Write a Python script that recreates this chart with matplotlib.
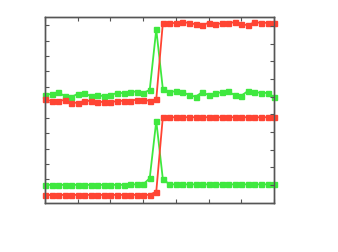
import matplotlib
matplotlib.use('Agg')
import matplotlib.pyplot as plt

# x positions: 36 samples, 0.0 .. 7.0
x = [0.0, 0.2, 0.4, 0.6, 0.8, 1.0, 1.2, 1.4, 1.6, 1.8,
     2.0, 2.2, 2.4, 2.6, 2.8, 3.0, 3.2, 3.4, 3.6, 3.8,
     4.0, 4.2, 4.4, 4.6, 4.8, 5.0, 5.2, 5.4, 5.6, 5.8,
     6.0, 6.2, 6.4, 6.6, 6.8, 7.0]

red_top = [6.19, 6.08, 6.08, 6.15, 5.97, 5.97, 6.08, 6.10, 6.00, 6.04,
           6.00, 6.08, 6.10, 6.10, 6.17, 6.15, 6.10, 6.19, 11.11, 11.11,
           11.15, 11.18, 11.15, 11.05, 11.00, 11.15, 11.07, 11.11, 11.15, 11.18,
           11.05, 11.00, 11.18, 11.15, 11.15, 11.11]

green_top = [6.47, 6.54, 6.65, 6.41, 6.34, 6.54, 6.60, 6.39, 6.47, 6.39,
             6.47, 6.60, 6.60, 6.69, 6.69, 6.60, 6.80, 10.72, 6.88, 6.68,
             6.71, 6.67, 6.47, 6.36, 6.65, 6.47, 6.58, 6.65, 6.71, 6.45,
             6.43, 6.73, 6.65, 6.62, 6.60, 6.34]

green_bottom = [0.65, 0.65, 0.65, 0.65, 0.65, 0.65, 0.65, 0.65, 0.65, 0.65,
                0.65, 0.65, 0.65, 0.68, 0.68, 0.68, 1.08, 4.79, 1.04, 0.68,
                0.68, 0.68, 0.68, 0.68, 0.68, 0.68, 0.68, 0.68, 0.68, 0.68,
                0.68, 0.68, 0.68, 0.68, 0.68, 0.68]

red_bottom = [0.0, 0.0, 0.0, 0.0, 0.0, 0.0, 0.0, 0.0, 0.0, 0.0,
              0.0, 0.0, 0.0, 0.0, 0.0, 0.0, 0.0, 0.21, 5.03, 5.03,
              5.03, 5.03, 5.03, 5.03, 5.03, 5.03, 5.03, 5.03, 5.03, 5.03,
              5.03, 5.03, 5.03, 5.03, 5.03, 5.03]

GREEN = '#3fe83f'
RED = '#ff4433'
SPINE = '#555555'

fig = plt.figure(figsize=(3.38, 2.52), dpi=100)
ax = fig.add_axes([0.133, 0.196, 0.678, 0.735])

for ys, c in [(green_top, GREEN), (red_top, RED),
              (green_bottom, GREEN), (red_bottom, RED)]:
    ax.plot(x, ys, color=c, lw=1.3, marker='s', ms=3.6, mec=c, mfc=c,
            clip_on=False, zorder=3)

ax.set_xlim(0, 7)
ax.set_ylim(-0.5, 11.5)
ax.set_xticks(range(8))
ax.set_yticks(range(12))
ax.tick_params(direction='in', length=3, width=0.8, color=SPINE,
               top=True, labelbottom=False, labelleft=False)
for s in ax.spines.values():
    s.set_color(SPINE)
    s.set_linewidth(1.0)

ax2 = ax.twinx()
ax2.set_ylim(0, 10.5)
ax2.set_yticks(range(11))
ax2.tick_params(direction='in', length=3, width=0.8, color=SPINE,
                labelright=False)
for s in ax2.spines.values():
    s.set_color(SPINE)
    s.set_linewidth(1.0)

fig.savefig('out.png', dpi=100)
